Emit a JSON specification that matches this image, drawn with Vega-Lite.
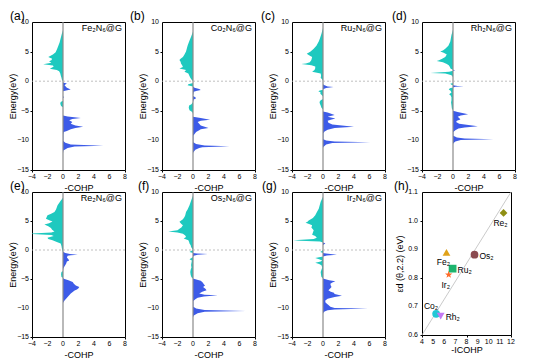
{
"$schema": "https://vega.github.io/schema/vega-lite/v6.json",
"background": "white",
"padding": {"left": 8, "top": 9, "right": 0, "bottom": 0},
"config": {
 "font": "Liberation Sans",
 "view": {"stroke": "#000", "strokeWidth": 1},
 "axis": {"grid": false, "domain": false, "labels": false, "titleFontSize": 9, "titleFontWeight": "normal", "titleColor": "#000", "tickColor": "#000", "tickSize": 2, "titleFont": "Liberation Sans"},
 "axisX": {"titlePadding": 11},
 "axisY": {"titlePadding": 12},
 "text": {"font": "Liberation Sans", "color": "#000"},
 "title": {"anchor": "start", "frame": "group", "fontSize": 12, "fontWeight": "normal", "font": "Liberation Sans", "offset": 0, "dy": 9, "color": "#000"}
},
"datasets": {
 "yt": [{"t":10},{"t":5},{"t":0},{"t":-5},{"t":-10},{"t":-15}],
 "xt": [{"t":-4},{"t":-2},{"t":0},{"t":2},{"t":4},{"t":6},{"t":8}],
 "hyt": [{"t":0.6},{"t":0.7},{"t":0.8},{"t":0.9},{"t":1.0},{"t":1.1}],
 "hxt": [{"t":4},{"t":5},{"t":6},{"t":7},{"t":8},{"t":9},{"t":10},{"t":11},{"t":12}],
 "Fe": [{"e":8.6,"v":0},{"e":8.0,"v":-0.15},{"e":7.0,"v":-0.35},{"e":6.6,"v":-0.43},{"e":6.0,"v":-0.6},{"e":5.5,"v":-0.75},{"e":4.9,"v":-0.95},{"e":4.5,"v":-1.3},{"e":4.1,"v":-1.9},{"e":3.8,"v":-1.4},{"e":3.55,"v":-1.5},{"e":3.35,"v":-1.8},{"e":3.1,"v":-1.5},{"e":2.85,"v":-2.55},{"e":2.65,"v":-1.3},{"e":2.5,"v":-1.2},{"e":2.3,"v":-1.4},{"e":2.1,"v":-1.7},{"e":1.9,"v":-0.8},{"e":1.7,"v":-0.5},{"e":1.3,"v":-0.35},{"e":1.0,"v":-0.3},{"e":0.6,"v":-0.2},{"e":0.3,"v":-0.15},{"e":0.0,"v":0},{"e":-0.2,"v":0},{"e":-0.4,"v":0.5},{"e":-0.55,"v":0.3},{"e":-0.7,"v":0.2},{"e":-0.9,"v":0.35},{"e":-1.1,"v":0.5},{"e":-1.4,"v":1.0},{"e":-1.55,"v":0.4},{"e":-1.7,"v":0},{"e":-2.5,"v":0},{"e":-2.7,"v":0.1},{"e":-2.9,"v":0},{"e":-3.3,"v":0},{"e":-3.5,"v":-0.3},{"e":-3.8,"v":-0.35},{"e":-4.2,"v":-0.25},{"e":-4.4,"v":0},{"e":-5.8,"v":0},{"e":-5.95,"v":0.6},{"e":-6.2,"v":2.3},{"e":-6.4,"v":1.2},{"e":-6.6,"v":0.8},{"e":-6.9,"v":1.2},{"e":-7.2,"v":1.0},{"e":-7.5,"v":1.6},{"e":-7.7,"v":2.6},{"e":-7.9,"v":1.6},{"e":-8.1,"v":1.0},{"e":-8.4,"v":0.5},{"e":-8.6,"v":0.1},{"e":-9.0,"v":0.05},{"e":-10.1,"v":0.05},{"e":-10.4,"v":0.3},{"e":-10.7,"v":1.0},{"e":-10.9,"v":5.2},{"e":-11.05,"v":1.5},{"e":-11.3,"v":0.6},{"e":-11.7,"v":0.05},{"e":-12.2,"v":0}],
 "Co": [{"e":8.4,"v":0},{"e":7.5,"v":-0.25},{"e":6.7,"v":-0.5},{"e":6.0,"v":-0.7},{"e":5.0,"v":-0.9},{"e":4.5,"v":-1.1},{"e":4.1,"v":-1.3},{"e":3.8,"v":-1.6},{"e":3.6,"v":-1.75},{"e":3.3,"v":-1.6},{"e":3.0,"v":-1.55},{"e":2.7,"v":-1.4},{"e":2.4,"v":-1.3},{"e":2.15,"v":-1.75},{"e":1.9,"v":-0.9},{"e":1.6,"v":-1.1},{"e":1.3,"v":-0.6},{"e":1.0,"v":-0.5},{"e":0.6,"v":-0.35},{"e":0.3,"v":-0.2},{"e":0.05,"v":0},{"e":-0.3,"v":0},{"e":-0.5,"v":-0.6},{"e":-0.7,"v":-0.7},{"e":-0.9,"v":0},{"e":-1.1,"v":0.2},{"e":-1.3,"v":0.8},{"e":-1.5,"v":1.0},{"e":-1.65,"v":0.4},{"e":-1.8,"v":0.1},{"e":-2.5,"v":0},{"e":-2.7,"v":0.3},{"e":-2.9,"v":0.4},{"e":-3.1,"v":0.1},{"e":-3.5,"v":0},{"e":-3.9,"v":-0.2},{"e":-4.1,"v":-0.5},{"e":-4.5,"v":-0.55},{"e":-4.9,"v":-0.45},{"e":-5.2,"v":-0.1},{"e":-5.5,"v":0},{"e":-6.0,"v":0},{"e":-6.2,"v":1.0},{"e":-6.5,"v":2.2},{"e":-6.7,"v":1.0},{"e":-6.9,"v":0.6},{"e":-7.2,"v":0.8},{"e":-7.5,"v":1.0},{"e":-7.9,"v":2.0},{"e":-8.1,"v":1.0},{"e":-8.3,"v":0.8},{"e":-8.6,"v":0.4},{"e":-8.9,"v":0.2},{"e":-9.2,"v":0.05},{"e":-10.3,"v":0.05},{"e":-10.6,"v":0.4},{"e":-10.85,"v":1.5},{"e":-11.0,"v":4.7},{"e":-11.15,"v":1.2},{"e":-11.3,"v":0.8},{"e":-11.6,"v":0.3},{"e":-12.0,"v":0.05},{"e":-12.2,"v":0}],
 "Ru": [{"e":9.0,"v":0},{"e":8.0,"v":-0.2},{"e":7.2,"v":-0.4},{"e":6.7,"v":-0.55},{"e":6.0,"v":-0.85},{"e":5.5,"v":-1.2},{"e":5.0,"v":-1.6},{"e":4.65,"v":-2.1},{"e":4.4,"v":-1.8},{"e":4.1,"v":-1.4},{"e":3.6,"v":-1.5},{"e":3.2,"v":-1.7},{"e":3.0,"v":-2.2},{"e":2.9,"v":-2.8},{"e":2.7,"v":-1.5},{"e":2.5,"v":-1.0},{"e":2.2,"v":-1.0},{"e":1.9,"v":-1.1},{"e":1.6,"v":-1.4},{"e":1.3,"v":-0.3},{"e":0.9,"v":-0.25},{"e":0.6,"v":-0.3},{"e":0.3,"v":-0.1},{"e":0.1,"v":0},{"e":-0.5,"v":0},{"e":-0.7,"v":0.2},{"e":-0.9,"v":0.6},{"e":-1.0,"v":1.35},{"e":-1.15,"v":0.4},{"e":-1.3,"v":0.1},{"e":-1.45,"v":0},{"e":-1.55,"v":-0.4},{"e":-1.7,"v":-0.6},{"e":-1.9,"v":-0.3},{"e":-2.1,"v":-0.35},{"e":-2.3,"v":-0.2},{"e":-2.6,"v":0},{"e":-3.0,"v":0},{"e":-3.2,"v":-0.3},{"e":-3.5,"v":-0.45},{"e":-3.8,"v":-0.4},{"e":-4.1,"v":-0.3},{"e":-4.5,"v":-0.2},{"e":-4.8,"v":0},{"e":-5.1,"v":0},{"e":-5.3,"v":0.6},{"e":-5.7,"v":1.5},{"e":-6.0,"v":0.6},{"e":-6.3,"v":1.6},{"e":-6.5,"v":1.0},{"e":-6.7,"v":0.6},{"e":-7.0,"v":0.7},{"e":-7.3,"v":1.2},{"e":-7.7,"v":4.0},{"e":-7.9,"v":1.5},{"e":-8.2,"v":0.6},{"e":-8.5,"v":0.2},{"e":-8.8,"v":0.05},{"e":-9.8,"v":0.05},{"e":-10.0,"v":0.4},{"e":-10.2,"v":1.5},{"e":-10.3,"v":6.1},{"e":-10.45,"v":1.2},{"e":-10.7,"v":0.4},{"e":-11.1,"v":0.05},{"e":-11.3,"v":0}],
 "Rh": [{"e":8.7,"v":0},{"e":7.8,"v":-0.2},{"e":6.7,"v":-0.35},{"e":6.0,"v":-0.6},{"e":5.5,"v":-1.0},{"e":5.2,"v":-1.3},{"e":5.0,"v":-1.65},{"e":4.8,"v":-1.2},{"e":4.5,"v":-0.8},{"e":4.1,"v":-1.0},{"e":3.8,"v":-1.4},{"e":3.55,"v":-1.8},{"e":3.4,"v":-2.1},{"e":3.2,"v":-1.3},{"e":2.9,"v":-0.8},{"e":2.7,"v":-0.55},{"e":2.4,"v":-0.4},{"e":2.1,"v":-0.3},{"e":1.95,"v":0},{"e":1.85,"v":0.3},{"e":1.75,"v":0},{"e":1.6,"v":-0.5},{"e":1.45,"v":-2.0},{"e":1.4,"v":-2.9},{"e":1.3,"v":-1.0},{"e":1.1,"v":-0.4},{"e":1.0,"v":-0.2},{"e":0.7,"v":0},{"e":-0.3,"v":0},{"e":-0.45,"v":-0.35},{"e":-0.6,"v":-0.2},{"e":-0.7,"v":0},{"e":-0.8,"v":0.6},{"e":-0.85,"v":1.4},{"e":-0.95,"v":0.3},{"e":-1.05,"v":0},{"e":-1.2,"v":-0.4},{"e":-1.4,"v":-0.55},{"e":-1.6,"v":-0.3},{"e":-1.9,"v":-0.2},{"e":-2.2,"v":-0.5},{"e":-2.4,"v":-0.3},{"e":-2.7,"v":-0.2},{"e":-3.2,"v":-0.2},{"e":-3.6,"v":-0.25},{"e":-4.0,"v":-0.2},{"e":-4.6,"v":-0.15},{"e":-4.9,"v":0},{"e":-5.0,"v":0},{"e":-5.2,"v":0.6},{"e":-5.6,"v":1.95},{"e":-5.8,"v":1.0},{"e":-6.0,"v":0.6},{"e":-6.2,"v":0.8},{"e":-6.45,"v":0.95},{"e":-6.7,"v":0.5},{"e":-6.9,"v":0.4},{"e":-7.2,"v":0.8},{"e":-7.6,"v":3.2},{"e":-7.8,"v":1.5},{"e":-8.0,"v":0.7},{"e":-8.3,"v":0.3},{"e":-8.6,"v":0.05},{"e":-9.2,"v":0.05},{"e":-9.5,"v":0.5},{"e":-9.7,"v":1.5},{"e":-9.8,"v":5.2},{"e":-9.95,"v":1.0},{"e":-10.2,"v":0.3},{"e":-10.5,"v":0.05},{"e":-10.7,"v":0}],
 "Re": [{"e":9.0,"v":0},{"e":8.5,"v":-0.3},{"e":7.7,"v":-0.7},{"e":7.0,"v":-0.9},{"e":6.55,"v":-1.1},{"e":6.2,"v":-1.6},{"e":6.0,"v":-2.0},{"e":5.7,"v":-2.1},{"e":5.4,"v":-2.2},{"e":5.1,"v":-1.7},{"e":4.9,"v":-1.35},{"e":4.6,"v":-1.8},{"e":4.4,"v":-2.4},{"e":4.1,"v":-1.9},{"e":3.8,"v":-1.55},{"e":3.5,"v":-1.4},{"e":3.2,"v":-1.1},{"e":3.0,"v":-1.5},{"e":2.85,"v":-4.0},{"e":2.75,"v":-4.0},{"e":2.6,"v":-1.5},{"e":2.4,"v":-1.2},{"e":2.1,"v":-2.0},{"e":1.9,"v":-1.9},{"e":1.7,"v":-1.35},{"e":1.4,"v":-0.8},{"e":1.1,"v":-0.3},{"e":0.7,"v":-0.2},{"e":0.3,"v":-0.15},{"e":0.1,"v":-0.1},{"e":-0.2,"v":-0.05},{"e":-0.3,"v":0},{"e":-0.5,"v":0.3},{"e":-0.7,"v":0.9},{"e":-0.8,"v":1.9},{"e":-0.9,"v":1.0},{"e":-1.0,"v":0.6},{"e":-1.3,"v":0.5},{"e":-1.6,"v":0.7},{"e":-1.8,"v":0.8},{"e":-2.0,"v":0.5},{"e":-2.35,"v":0.4},{"e":-2.8,"v":0.2},{"e":-3.2,"v":0.05},{"e":-3.6,"v":0},{"e":-3.8,"v":-0.2},{"e":-4.2,"v":-0.25},{"e":-4.65,"v":-0.2},{"e":-4.8,"v":0},{"e":-4.95,"v":0.1},{"e":-5.2,"v":0.7},{"e":-5.5,"v":1.25},{"e":-5.8,"v":1.4},{"e":-6.1,"v":1.65},{"e":-6.4,"v":2.1},{"e":-6.6,"v":2.0},{"e":-6.8,"v":1.8},{"e":-7.0,"v":1.5},{"e":-7.25,"v":1.25},{"e":-7.5,"v":1.0},{"e":-7.8,"v":0.8},{"e":-8.1,"v":0.6},{"e":-8.4,"v":0.4},{"e":-8.7,"v":0.2},{"e":-9.0,"v":0.05},{"e":-9.2,"v":0}],
 "Os": [{"e":9.4,"v":0},{"e":8.5,"v":-0.25},{"e":7.7,"v":-0.45},{"e":7.0,"v":-0.7},{"e":6.55,"v":-0.9},{"e":6.0,"v":-1.0},{"e":5.7,"v":-1.1},{"e":5.3,"v":-1.3},{"e":4.85,"v":-1.75},{"e":4.5,"v":-1.5},{"e":4.25,"v":-1.3},{"e":3.9,"v":-1.5},{"e":3.7,"v":-1.7},{"e":3.4,"v":-2.0},{"e":3.2,"v":-3.2},{"e":3.0,"v":-2.0},{"e":2.8,"v":-1.3},{"e":2.5,"v":-1.0},{"e":2.25,"v":-0.9},{"e":2.0,"v":-1.2},{"e":1.7,"v":-0.6},{"e":1.4,"v":-0.5},{"e":1.1,"v":-0.45},{"e":0.8,"v":-0.3},{"e":0.5,"v":-0.25},{"e":0.2,"v":-0.1},{"e":0.0,"v":0},{"e":-0.2,"v":-0.3},{"e":-0.35,"v":-0.45},{"e":-0.5,"v":0},{"e":-0.6,"v":0.5},{"e":-0.7,"v":1.9},{"e":-0.8,"v":0.6},{"e":-1.0,"v":0.1},{"e":-1.2,"v":0},{"e":-1.4,"v":-0.2},{"e":-1.6,"v":-0.45},{"e":-1.8,"v":-0.15},{"e":-2.2,"v":-0.2},{"e":-2.6,"v":-0.25},{"e":-3.0,"v":-0.2},{"e":-3.4,"v":-0.3},{"e":-3.8,"v":-0.35},{"e":-4.3,"v":-0.3},{"e":-4.7,"v":-0.2},{"e":-4.9,"v":0},{"e":-5.0,"v":0.2},{"e":-5.3,"v":1.0},{"e":-5.6,"v":1.25},{"e":-5.9,"v":1.4},{"e":-6.1,"v":1.55},{"e":-6.4,"v":1.3},{"e":-6.7,"v":1.6},{"e":-6.95,"v":1.75},{"e":-7.2,"v":1.2},{"e":-7.5,"v":0.8},{"e":-7.7,"v":1.5},{"e":-7.8,"v":3.2},{"e":-8.0,"v":1.4},{"e":-8.25,"v":0.6},{"e":-8.5,"v":0.3},{"e":-8.8,"v":0.05},{"e":-9.8,"v":0.05},{"e":-10.1,"v":0.4},{"e":-10.35,"v":1.5},{"e":-10.5,"v":6.8},{"e":-10.65,"v":1.5},{"e":-10.9,"v":0.6},{"e":-11.3,"v":0.1},{"e":-11.6,"v":0}],
 "Ir": [{"e":9.2,"v":0},{"e":8.3,"v":-0.3},{"e":7.1,"v":-0.55},{"e":6.5,"v":-0.8},{"e":6.0,"v":-1.0},{"e":5.5,"v":-1.3},{"e":5.1,"v":-1.85},{"e":4.85,"v":-2.0},{"e":4.7,"v":-2.25},{"e":4.5,"v":-1.8},{"e":4.25,"v":-1.4},{"e":3.9,"v":-1.5},{"e":3.4,"v":-1.2},{"e":3.0,"v":-1.3},{"e":2.65,"v":-1.4},{"e":2.4,"v":-1.0},{"e":2.1,"v":-0.8},{"e":1.9,"v":-1.2},{"e":1.7,"v":-3.8},{"e":1.6,"v":-3.0},{"e":1.45,"v":-0.4},{"e":1.3,"v":0},{"e":1.2,"v":0.2},{"e":1.1,"v":0.3},{"e":0.95,"v":0.1},{"e":0.8,"v":0},{"e":0.0,"v":0},{"e":-0.2,"v":-0.2},{"e":-0.35,"v":-0.35},{"e":-0.5,"v":0},{"e":-0.6,"v":0.4},{"e":-0.8,"v":1.8},{"e":-0.95,"v":0.5},{"e":-1.1,"v":0},{"e":-1.25,"v":-0.5},{"e":-1.4,"v":-1.0},{"e":-1.6,"v":-0.5},{"e":-1.8,"v":-0.1},{"e":-2.0,"v":-0.3},{"e":-2.2,"v":-1.0},{"e":-2.4,"v":-0.5},{"e":-2.65,"v":-0.2},{"e":-3.0,"v":-0.1},{"e":-3.4,"v":-0.2},{"e":-3.8,"v":-0.3},{"e":-4.3,"v":-0.25},{"e":-4.65,"v":-0.2},{"e":-4.85,"v":0},{"e":-4.95,"v":0.1},{"e":-5.2,"v":0.8},{"e":-5.4,"v":1.6},{"e":-5.6,"v":1.2},{"e":-5.8,"v":0.95},{"e":-6.1,"v":1.0},{"e":-6.4,"v":1.1},{"e":-6.7,"v":0.9},{"e":-6.95,"v":0.7},{"e":-7.2,"v":1.0},{"e":-7.35,"v":1.4},{"e":-7.6,"v":1.5},{"e":-7.9,"v":2.45},{"e":-8.1,"v":1.5},{"e":-8.4,"v":0.6},{"e":-8.7,"v":0.3},{"e":-9.0,"v":0.3},{"e":-9.25,"v":0.5},{"e":-9.5,"v":0.7},{"e":-9.8,"v":0.95},{"e":-10.0,"v":1.5},{"e":-10.1,"v":5.8},{"e":-10.25,"v":1.5},{"e":-10.4,"v":0.6},{"e":-10.6,"v":0.2},{"e":-10.8,"v":0.05},{"e":-11.0,"v":0}],
 "pts": [{"m":"Re₂","icohp":11.33,"ed":1.027},{"m":"Os₂","icohp":8.72,"ed":0.881},{"m":"Fe₂","icohp":6.2,"ed":0.889},{"m":"Ru₂","icohp":6.75,"ed":0.832},{"m":"Ir₂","icohp":6.4,"ed":0.811},{"m":"Co₂","icohp":5.27,"ed":0.674},{"m":"Rh₂","icohp":5.68,"ed":0.666}]
},
"columns": 4,
"bounds": "flush",
"spacing": {"row": 22, "column": 37},
"concat": [
 {"width": 93, "height": 148, "title": {"text": "(a)", "dx": -22},
  "layer": [
   {"data": {"name": "Fe"}, "transform": [{"filter": "datum.v <= 0"}], "mark": {"type": "area", "orient": "horizontal", "color": "#1ec9bf", "clip": true},
    "encoding": {"x": {"field": "v", "type": "quantitative", "stack": null, "scale": {"domain": [-4, 8], "nice": false}, "axis": {"values": [-4,-2,0,2,4,6,8], "title": "-COHP"}}, "y": {"field": "e", "type": "quantitative", "scale": {"domain": [-15, 10], "nice": false}, "axis": {"values": [10,5,0,-5,-10,-15], "title": "Energy(eV)"}}}},
   {"data": {"name": "Fe"}, "transform": [{"filter": "datum.v >= 0"}], "mark": {"type": "area", "orient": "horizontal", "color": "#3d5be8", "clip": true},
    "encoding": {"x": {"field": "v", "type": "quantitative", "stack": null}, "y": {"field": "e", "type": "quantitative"}}},
   {"data": {"values": [{}]}, "mark": {"type": "rule", "color": "#8a8a8a", "strokeWidth": 1.2}, "encoding": {"x": {"datum": 0}}},
   {"data": {"values": [{}]}, "mark": {"type": "rule", "color": "#b0b0b0", "strokeWidth": 0.8, "strokeDash": [2, 2]}, "encoding": {"y": {"datum": 0}}},
   {"data": {"values": [{}]}, "mark": {"type": "text", "text": "Fe₂N₆@G", "align": "right", "baseline": "top", "dx": -3, "dy": 2, "fontSize": 9}, "encoding": {"x": {"datum": 8}, "y": {"datum": 10}}},
   {"data": {"name": "yt"}, "mark": {"type": "text", "align": "right", "baseline": "middle", "dx": -3, "fontSize": 7}, "encoding": {"y": {"field": "t", "type": "quantitative"}, "x": {"datum": -4}, "text": {"field": "t", "type": "quantitative"}}},
   {"data": {"name": "xt"}, "mark": {"type": "text", "align": "center", "baseline": "top", "dy": 3, "fontSize": 7}, "encoding": {"x": {"field": "t", "type": "quantitative"}, "y": {"datum": -15}, "text": {"field": "t", "type": "quantitative"}}}
  ]},
 {"width": 93, "height": 148, "title": {"text": "(b)", "dx": -32},
  "layer": [
   {"data": {"name": "Co"}, "transform": [{"filter": "datum.v <= 0"}], "mark": {"type": "area", "orient": "horizontal", "color": "#1ec9bf", "clip": true},
    "encoding": {"x": {"field": "v", "type": "quantitative", "stack": null, "scale": {"domain": [-4, 8], "nice": false}, "axis": {"values": [-4,-2,0,2,4,6,8], "title": "-COHP"}}, "y": {"field": "e", "type": "quantitative", "scale": {"domain": [-15, 10], "nice": false}, "axis": {"values": [10,5,0,-5,-10,-15], "title": "Energy(eV)"}}}},
   {"data": {"name": "Co"}, "transform": [{"filter": "datum.v >= 0"}], "mark": {"type": "area", "orient": "horizontal", "color": "#3d5be8", "clip": true},
    "encoding": {"x": {"field": "v", "type": "quantitative", "stack": null}, "y": {"field": "e", "type": "quantitative"}}},
   {"data": {"values": [{}]}, "mark": {"type": "rule", "color": "#8a8a8a", "strokeWidth": 1.2}, "encoding": {"x": {"datum": 0}}},
   {"data": {"values": [{}]}, "mark": {"type": "rule", "color": "#b0b0b0", "strokeWidth": 0.8, "strokeDash": [2, 2]}, "encoding": {"y": {"datum": 0}}},
   {"data": {"values": [{}]}, "mark": {"type": "text", "text": "Co₂N₆@G", "align": "right", "baseline": "top", "dx": -3, "dy": 2, "fontSize": 9}, "encoding": {"x": {"datum": 8}, "y": {"datum": 10}}},
   {"data": {"name": "yt"}, "mark": {"type": "text", "align": "right", "baseline": "middle", "dx": -3, "fontSize": 7}, "encoding": {"y": {"field": "t", "type": "quantitative"}, "x": {"datum": -4}, "text": {"field": "t", "type": "quantitative"}}},
   {"data": {"name": "xt"}, "mark": {"type": "text", "align": "center", "baseline": "top", "dy": 3, "fontSize": 7}, "encoding": {"x": {"field": "t", "type": "quantitative"}, "y": {"datum": -15}, "text": {"field": "t", "type": "quantitative"}}}
  ]},
 {"width": 93, "height": 148, "title": {"text": "(c)", "dx": -31},
  "layer": [
   {"data": {"name": "Ru"}, "transform": [{"filter": "datum.v <= 0"}], "mark": {"type": "area", "orient": "horizontal", "color": "#1ec9bf", "clip": true},
    "encoding": {"x": {"field": "v", "type": "quantitative", "stack": null, "scale": {"domain": [-4, 8], "nice": false}, "axis": {"values": [-4,-2,0,2,4,6,8], "title": "-COHP"}}, "y": {"field": "e", "type": "quantitative", "scale": {"domain": [-15, 10], "nice": false}, "axis": {"values": [10,5,0,-5,-10,-15], "title": "Energy(eV)"}}}},
   {"data": {"name": "Ru"}, "transform": [{"filter": "datum.v >= 0"}], "mark": {"type": "area", "orient": "horizontal", "color": "#3d5be8", "clip": true},
    "encoding": {"x": {"field": "v", "type": "quantitative", "stack": null}, "y": {"field": "e", "type": "quantitative"}}},
   {"data": {"values": [{}]}, "mark": {"type": "rule", "color": "#8a8a8a", "strokeWidth": 1.2}, "encoding": {"x": {"datum": 0}}},
   {"data": {"values": [{}]}, "mark": {"type": "rule", "color": "#b0b0b0", "strokeWidth": 0.8, "strokeDash": [2, 2]}, "encoding": {"y": {"datum": 0}}},
   {"data": {"values": [{}]}, "mark": {"type": "text", "text": "Ru₂N₆@G", "align": "right", "baseline": "top", "dx": -3, "dy": 2, "fontSize": 9}, "encoding": {"x": {"datum": 8}, "y": {"datum": 10}}},
   {"data": {"name": "yt"}, "mark": {"type": "text", "align": "right", "baseline": "middle", "dx": -3, "fontSize": 7}, "encoding": {"y": {"field": "t", "type": "quantitative"}, "x": {"datum": -4}, "text": {"field": "t", "type": "quantitative"}}},
   {"data": {"name": "xt"}, "mark": {"type": "text", "align": "center", "baseline": "top", "dy": 3, "fontSize": 7}, "encoding": {"x": {"field": "t", "type": "quantitative"}, "y": {"datum": -15}, "text": {"field": "t", "type": "quantitative"}}}
  ]},
 {"width": 93, "height": 148, "title": {"text": "(d)", "dx": -30},
  "layer": [
   {"data": {"name": "Rh"}, "transform": [{"filter": "datum.v <= 0"}], "mark": {"type": "area", "orient": "horizontal", "color": "#1ec9bf", "clip": true},
    "encoding": {"x": {"field": "v", "type": "quantitative", "stack": null, "scale": {"domain": [-4, 8], "nice": false}, "axis": {"values": [-4,-2,0,2,4,6,8], "title": "-COHP"}}, "y": {"field": "e", "type": "quantitative", "scale": {"domain": [-15, 10], "nice": false}, "axis": {"values": [10,5,0,-5,-10,-15], "title": "Energy(eV)"}}}},
   {"data": {"name": "Rh"}, "transform": [{"filter": "datum.v >= 0"}], "mark": {"type": "area", "orient": "horizontal", "color": "#3d5be8", "clip": true},
    "encoding": {"x": {"field": "v", "type": "quantitative", "stack": null}, "y": {"field": "e", "type": "quantitative"}}},
   {"data": {"values": [{}]}, "mark": {"type": "rule", "color": "#8a8a8a", "strokeWidth": 1.2}, "encoding": {"x": {"datum": 0}}},
   {"data": {"values": [{}]}, "mark": {"type": "rule", "color": "#b0b0b0", "strokeWidth": 0.8, "strokeDash": [2, 2]}, "encoding": {"y": {"datum": 0}}},
   {"data": {"values": [{}]}, "mark": {"type": "text", "text": "Rh₂N₆@G", "align": "right", "baseline": "top", "dx": -3, "dy": 2, "fontSize": 9}, "encoding": {"x": {"datum": 8}, "y": {"datum": 10}}},
   {"data": {"name": "yt"}, "mark": {"type": "text", "align": "right", "baseline": "middle", "dx": -3, "fontSize": 7}, "encoding": {"y": {"field": "t", "type": "quantitative"}, "x": {"datum": -4}, "text": {"field": "t", "type": "quantitative"}}},
   {"data": {"name": "xt"}, "mark": {"type": "text", "align": "center", "baseline": "top", "dy": 3, "fontSize": 7}, "encoding": {"x": {"field": "t", "type": "quantitative"}, "y": {"datum": -15}, "text": {"field": "t", "type": "quantitative"}}}
  ]},
 {"width": 93, "height": 145, "title": {"text": "(e)", "dx": -22},
  "layer": [
   {"data": {"name": "Re"}, "transform": [{"filter": "datum.v <= 0"}], "mark": {"type": "area", "orient": "horizontal", "color": "#1ec9bf", "clip": true},
    "encoding": {"x": {"field": "v", "type": "quantitative", "stack": null, "scale": {"domain": [-4, 8], "nice": false}, "axis": {"values": [-4,-2,0,2,4,6,8], "title": "-COHP"}}, "y": {"field": "e", "type": "quantitative", "scale": {"domain": [-15, 10], "nice": false}, "axis": {"values": [10,5,0,-5,-10,-15], "title": "Energy(eV)"}}}},
   {"data": {"name": "Re"}, "transform": [{"filter": "datum.v >= 0"}], "mark": {"type": "area", "orient": "horizontal", "color": "#3d5be8", "clip": true},
    "encoding": {"x": {"field": "v", "type": "quantitative", "stack": null}, "y": {"field": "e", "type": "quantitative"}}},
   {"data": {"values": [{}]}, "mark": {"type": "rule", "color": "#8a8a8a", "strokeWidth": 1.2}, "encoding": {"x": {"datum": 0}}},
   {"data": {"values": [{}]}, "mark": {"type": "rule", "color": "#b0b0b0", "strokeWidth": 0.8, "strokeDash": [2, 2]}, "encoding": {"y": {"datum": 0}}},
   {"data": {"values": [{}]}, "mark": {"type": "text", "text": "Re₂N₆@G", "align": "right", "baseline": "top", "dx": -3, "dy": 2, "fontSize": 9}, "encoding": {"x": {"datum": 8}, "y": {"datum": 10}}},
   {"data": {"name": "yt"}, "mark": {"type": "text", "align": "right", "baseline": "middle", "dx": -3, "fontSize": 7}, "encoding": {"y": {"field": "t", "type": "quantitative"}, "x": {"datum": -4}, "text": {"field": "t", "type": "quantitative"}}},
   {"data": {"name": "xt"}, "mark": {"type": "text", "align": "center", "baseline": "top", "dy": 3, "fontSize": 7}, "encoding": {"x": {"field": "t", "type": "quantitative"}, "y": {"datum": -15}, "text": {"field": "t", "type": "quantitative"}}}
  ]},
 {"width": 93, "height": 145, "title": {"text": "(f)", "dx": -24},
  "layer": [
   {"data": {"name": "Os"}, "transform": [{"filter": "datum.v <= 0"}], "mark": {"type": "area", "orient": "horizontal", "color": "#1ec9bf", "clip": true},
    "encoding": {"x": {"field": "v", "type": "quantitative", "stack": null, "scale": {"domain": [-4, 8], "nice": false}, "axis": {"values": [-4,-2,0,2,4,6,8], "title": "-COHP"}}, "y": {"field": "e", "type": "quantitative", "scale": {"domain": [-15, 10], "nice": false}, "axis": {"values": [10,5,0,-5,-10,-15], "title": "Energy(eV)"}}}},
   {"data": {"name": "Os"}, "transform": [{"filter": "datum.v >= 0"}], "mark": {"type": "area", "orient": "horizontal", "color": "#3d5be8", "clip": true},
    "encoding": {"x": {"field": "v", "type": "quantitative", "stack": null}, "y": {"field": "e", "type": "quantitative"}}},
   {"data": {"values": [{}]}, "mark": {"type": "rule", "color": "#8a8a8a", "strokeWidth": 1.2}, "encoding": {"x": {"datum": 0}}},
   {"data": {"values": [{}]}, "mark": {"type": "rule", "color": "#b0b0b0", "strokeWidth": 0.8, "strokeDash": [2, 2]}, "encoding": {"y": {"datum": 0}}},
   {"data": {"values": [{}]}, "mark": {"type": "text", "text": "Os₂N₆@G", "align": "right", "baseline": "top", "dx": -3, "dy": 2, "fontSize": 9}, "encoding": {"x": {"datum": 8}, "y": {"datum": 10}}},
   {"data": {"name": "yt"}, "mark": {"type": "text", "align": "right", "baseline": "middle", "dx": -3, "fontSize": 7}, "encoding": {"y": {"field": "t", "type": "quantitative"}, "x": {"datum": -4}, "text": {"field": "t", "type": "quantitative"}}},
   {"data": {"name": "xt"}, "mark": {"type": "text", "align": "center", "baseline": "top", "dy": 3, "fontSize": 7}, "encoding": {"x": {"field": "t", "type": "quantitative"}, "y": {"datum": -15}, "text": {"field": "t", "type": "quantitative"}}}
  ]},
 {"width": 93, "height": 145, "title": {"text": "(g)", "dx": -30},
  "layer": [
   {"data": {"name": "Ir"}, "transform": [{"filter": "datum.v <= 0"}], "mark": {"type": "area", "orient": "horizontal", "color": "#1ec9bf", "clip": true},
    "encoding": {"x": {"field": "v", "type": "quantitative", "stack": null, "scale": {"domain": [-4, 8], "nice": false}, "axis": {"values": [-4,-2,0,2,4,6,8], "title": "-COHP"}}, "y": {"field": "e", "type": "quantitative", "scale": {"domain": [-15, 10], "nice": false}, "axis": {"values": [10,5,0,-5,-10,-15], "title": "Energy(eV)"}}}},
   {"data": {"name": "Ir"}, "transform": [{"filter": "datum.v >= 0"}], "mark": {"type": "area", "orient": "horizontal", "color": "#3d5be8", "clip": true},
    "encoding": {"x": {"field": "v", "type": "quantitative", "stack": null}, "y": {"field": "e", "type": "quantitative"}}},
   {"data": {"values": [{}]}, "mark": {"type": "rule", "color": "#8a8a8a", "strokeWidth": 1.2}, "encoding": {"x": {"datum": 0}}},
   {"data": {"values": [{}]}, "mark": {"type": "rule", "color": "#b0b0b0", "strokeWidth": 0.8, "strokeDash": [2, 2]}, "encoding": {"y": {"datum": 0}}},
   {"data": {"values": [{}]}, "mark": {"type": "text", "text": "Ir₂N₆@G", "align": "right", "baseline": "top", "dx": -3, "dy": 2, "fontSize": 9}, "encoding": {"x": {"datum": 8}, "y": {"datum": 10}}},
   {"data": {"name": "yt"}, "mark": {"type": "text", "align": "right", "baseline": "middle", "dx": -3, "fontSize": 7}, "encoding": {"y": {"field": "t", "type": "quantitative"}, "x": {"datum": -4}, "text": {"field": "t", "type": "quantitative"}}},
   {"data": {"name": "xt"}, "mark": {"type": "text", "align": "center", "baseline": "top", "dy": 3, "fontSize": 7}, "encoding": {"x": {"field": "t", "type": "quantitative"}, "y": {"datum": -15}, "text": {"field": "t", "type": "quantitative"}}}
  ]},
 {"width": 89, "height": 143, "title": {"text": "(h)", "dx": -28},
  "layer": [
   {"data": {"values": [{"icohp": 4, "ed": 0.6}, {"icohp": 12, "ed": 1.1}]}, "mark": {"type": "line", "color": "#bdbdbd", "strokeWidth": 0.8},
    "encoding": {"x": {"field": "icohp", "type": "quantitative", "scale": {"domain": [4, 12], "nice": false}, "axis": {"values": [4,5,6,7,8,9,10,11,12], "title": "-ICOHP", "titlePadding": 8}}, "y": {"field": "ed", "type": "quantitative", "scale": {"domain": [0.6, 1.1], "nice": false, "zero": false}, "axis": {"values": [0.6,0.7,0.8,0.9,1.0,1.1], "title": "εd (θ,2.2) (eV)", "titlePadding": 15}}}},
   {"data": {"name": "pts"}, "mark": {"type": "point", "filled": true, "size": 60, "opacity": 1},
    "encoding": {"x": {"field": "icohp", "type": "quantitative"}, "y": {"field": "ed", "type": "quantitative"},
     "color": {"field": "m", "type": "nominal", "legend": null, "scale": {"domain": ["Re₂","Os₂","Fe₂","Ru₂","Ir₂","Co₂","Rh₂"], "range": ["#8f8f14","#8b4a4f","#e0a21a","#1db46e","#ff6a28","#22c8d6","#c47af2"]}},
     "shape": {"field": "m", "type": "nominal", "legend": null, "scale": {"domain": ["Re₂","Os₂","Fe₂","Ru₂","Ir₂","Co₂","Rh₂"], "range": ["diamond","circle","triangle-up","square","M0,-1L0.235,-0.324L0.951,-0.309L0.38,0.124L0.588,0.809L0,0.4L-0.588,0.809L-0.38,0.124L-0.951,-0.309L-0.235,-0.324Z","circle","triangle-down"]}}}},
   {"data": {"name": "pts"}, "transform": [{"filter": {"field": "m", "oneOf": ["Re₂","Fe₂","Ir₂"]}}], "mark": {"type": "text", "align": "center", "baseline": "top", "dx": -3, "dy": 6, "fontSize": 8.5},
    "encoding": {"x": {"field": "icohp", "type": "quantitative"}, "y": {"field": "ed", "type": "quantitative"}, "text": {"field": "m"}}},
   {"data": {"name": "pts"}, "transform": [{"filter": {"field": "m", "oneOf": ["Os₂","Ru₂","Rh₂"]}}], "mark": {"type": "text", "align": "left", "baseline": "middle", "dx": 5, "dy": 1, "fontSize": 8.5},
    "encoding": {"x": {"field": "icohp", "type": "quantitative"}, "y": {"field": "ed", "type": "quantitative"}, "text": {"field": "m"}}},
   {"data": {"name": "pts"}, "transform": [{"filter": {"field": "m", "oneOf": ["Co₂"]}}], "mark": {"type": "text", "align": "right", "baseline": "bottom", "dx": 2, "dy": -3, "fontSize": 8.5},
    "encoding": {"x": {"field": "icohp", "type": "quantitative"}, "y": {"field": "ed", "type": "quantitative"}, "text": {"field": "m"}}},
   {"data": {"name": "hyt"}, "mark": {"type": "text", "align": "right", "baseline": "middle", "dx": -4, "fontSize": 7}, "encoding": {"y": {"field": "t", "type": "quantitative"}, "x": {"datum": 4}, "text": {"field": "t", "type": "quantitative", "format": ".1f"}}},
   {"data": {"name": "hxt"}, "mark": {"type": "text", "align": "center", "baseline": "top", "dy": 3, "fontSize": 7}, "encoding": {"x": {"field": "t", "type": "quantitative"}, "y": {"datum": 0.6}, "text": {"field": "t", "type": "quantitative"}}}
  ]}
]
}
